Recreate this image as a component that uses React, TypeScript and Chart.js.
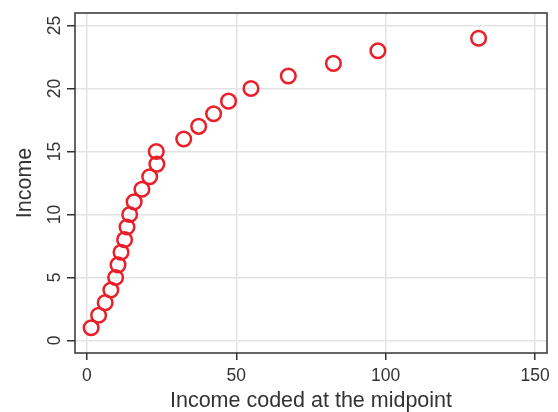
import React, { useEffect, useRef } from "react";
import { Chart, registerables } from "chart.js";

Chart.register(...registerables);

const incomeMidpoint: number[] = [1.4, 3.9, 6.1, 8.0, 9.6, 10.4, 11.4, 12.6, 13.4, 14.3, 15.8, 18.4, 21.0, 23.4, 23.2, 32.4, 37.4, 42.4, 47.4, 54.9, 67.4, 82.5, 97.4, 131.1];
const incomeCode: number[] = [1, 2, 3, 4, 5, 6, 7, 8, 9, 10, 11, 12, 13, 14, 15, 16, 17, 18, 19, 20, 21, 22, 23, 24];
const xTicks: number[] = [0, 50, 100, 150];
const yTicks: number[] = [0, 5, 10, 15, 20, 25];
const xTitle = "Income coded at the midpoint";
const yTitle = "Income";

const FONT = "'Liberation Sans', Arial, Helvetica, sans-serif";
const TEXT = "#333333";
const RED = "#e8202a";

export default function App() {
  const ref = useRef<HTMLCanvasElement | null>(null);

  useEffect(() => {
    if (!ref.current) return;
    const points = incomeMidpoint.map((x, i) => ({ x, y: incomeCode[i] }));

    const framePlugin = {
      id: "frameAndYLabels",
      beforeDatasetsDraw(chart: any) {
        const { ctx, chartArea } = chart;
        ctx.save();
        ctx.strokeStyle = "#333333";
        ctx.lineWidth = 1.5;
        ctx.strokeRect(chartArea.left, chartArea.top, chartArea.right - chartArea.left, chartArea.bottom - chartArea.top);
        ctx.restore();
      },
      afterDraw(chart: any) {
        const { ctx } = chart;
        const ys = chart.scales.y;
        ctx.save();
        ctx.fillStyle = TEXT;
        ctx.font = `17.5px ${FONT}`;
        ctx.textAlign = "center";
        ctx.textBaseline = "alphabetic";
        yTicks.forEach((v) => {
          const py = ys.getPixelForValue(v);
          ctx.save();
          ctx.translate(60, py);
          ctx.rotate(-Math.PI / 2);
          ctx.fillText(String(v), 0, 0);
          ctx.restore();
        });
        ctx.restore();
      },
    };

    const chart = new Chart(ref.current, {
      type: "scatter",
      data: {
        datasets: [
          {
            data: points,
            pointStyle: "circle",
            pointRadius: 7.3,
            pointHoverRadius: 7.3,
            borderWidth: 2.5,
            borderColor: RED,
            backgroundColor: "rgba(0,0,0,0)",
          },
        ],
      },
      options: {
        responsive: false,
        animation: false,
        layout: { padding: { left: 0, top: 13, right: 11, bottom: 0 } },
        plugins: { legend: { display: false }, tooltip: { enabled: false } },
        scales: {
          x: {
            type: "linear",
            min: -4,
            max: 154,
            afterBuildTicks: (s: any) => {
              s.ticks = xTicks.map((v) => ({ value: v }));
            },
            afterFit: (s: any) => {
              s.height = 59;
            },
            border: { display: false },
            grid: { color: "#e3e3e3", lineWidth: 1.5, drawTicks: true, tickLength: 7, tickColor: "#333333", tickWidth: 1.5 },
            ticks: { color: TEXT, font: { family: FONT, size: 17.5 }, padding: 6, maxRotation: 0 },
            title: { display: true, text: xTitle, color: TEXT, font: { family: FONT, size: 21.5, lineHeight: 1 }, padding: { top: 0, bottom: 0 } },
          },
          y: {
            type: "linear",
            min: -1,
            max: 26,
            afterBuildTicks: (s: any) => {
              s.ticks = yTicks.map((v) => ({ value: v }));
            },
            afterFit: (s: any) => {
              s.width = 75;
            },
            border: { display: false },
            grid: { color: "#e3e3e3", lineWidth: 1.5, drawTicks: true, tickLength: 8, tickColor: "#333333", tickWidth: 1.5 },
            ticks: { display: false },
            title: { display: true, text: yTitle, color: TEXT, font: { family: FONT, size: 21.5, lineHeight: 1.2 }, padding: { top: 12, bottom: 0 } },
          },
        },
      },
      plugins: [framePlugin],
    });
    return () => chart.destroy();
  }, []);

  return (
    <div style={{ position: "fixed", left: 0, top: 0, width: 558, height: 412, background: "#fff" }}>
      <canvas ref={ref} width={558} height={412} style={{ display: "block" }} />
    </div>
  );
}
